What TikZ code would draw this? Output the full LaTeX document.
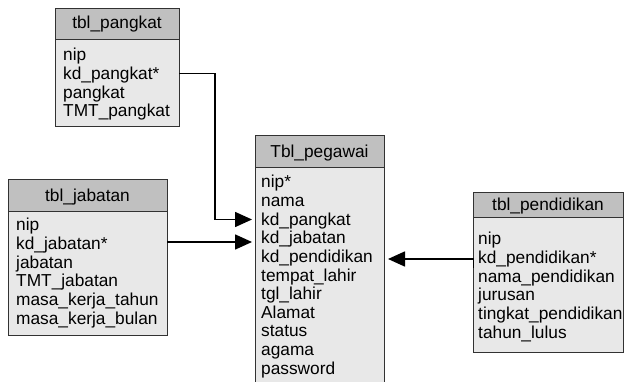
\documentclass[tikz,border=0pt]{standalone}
\usepackage{fontspec}
\setmainfont{Liberation Sans}
\usetikzlibrary{arrows.meta}
\definecolor{hdrgray}{RGB}{192,192,192}
\definecolor{bodygray}{RGB}{232,232,232}
\definecolor{edgegray}{RGB}{50,50,50}
\begin{document}
\begin{tikzpicture}[x=1pt,y=-1pt,
  hdrbox/.style={draw=edgegray,fill=hdrgray,line width=1pt},
  bodybox/.style={draw=edgegray,fill=bodygray,line width=1pt},
  hdrtext/.style={font=\fontsize{17.3}{18}\selectfont,inner sep=0pt,anchor=base},
  rowtext/.style={font=\fontsize{17.3}{18}\selectfont,inner sep=0pt,anchor=base west},
  conn/.style={line width=1.6pt,black},
  arr/.style={conn,-{Triangle[length=17pt,width=15pt]}}]
\useasboundingbox (0,0) rectangle (624,382);
\clip (0,0) rectangle (624,382);
\fill[white] (0,0) rectangle (624,382);

% tbl_pangkat
\path[bodybox] (55,40) rectangle (179,127);
\path[hdrbox] (55,9) rectangle (179,40);
\node[hdrtext] (pk-h) at (117,29) {tbl\_pangkat};
\node[rowtext] (pk-1) at (63,61) {nip};
\node[rowtext] (pk-2) at (63,79.6) {kd\_pangkat*};
\node[rowtext] (pk-3) at (63,98.2) {pangkat};
\node[rowtext] (pk-4) at (63,116.8) {TMT\_pangkat};

% tbl_jabatan
\path[bodybox] (8,212) rectangle (167,335);
\path[hdrbox] (8,180) rectangle (167,212);
\node[hdrtext] (jb-h) at (87.5,201.5) {tbl\_jabatan};
\node[rowtext] (jb-1) at (16,231) {nip};
\node[rowtext] (jb-2) at (16,249.6) {kd\_jabatan*};
\node[rowtext] (jb-3) at (16,268.2) {jabatan};
\node[rowtext] (jb-4) at (16,286.8) {TMT\_jabatan};
\node[rowtext] (jb-5) at (16,305.4) {masa\_kerja\_tahun};
\node[rowtext] (jb-6) at (16,324) {masa\_kerja\_bulan};

% Tbl_pegawai
\path[bodybox] (255,168) rectangle (384,395);
\path[hdrbox] (255,136) rectangle (384,168);
\node[hdrtext] (pg-h) at (319.5,157.5) {Tbl\_pegawai};
\node[rowtext] (pg-1) at (261,188) {nip*};
\node[rowtext] (pg-2) at (261,206.6) {nama};
\node[rowtext] (pg-3) at (261,225.2) {kd\_pangkat};
\node[rowtext] (pg-4) at (261,243.8) {kd\_jabatan};
\node[rowtext] (pg-5) at (261,262.4) {kd\_pendidikan};
\node[rowtext] (pg-6) at (261,281) {tempat\_lahir};
\node[rowtext] (pg-7) at (261,299.6) {tgl\_lahir};
\node[rowtext] (pg-8) at (261,318.2) {Alamat};
\node[rowtext] (pg-9) at (261,336.8) {status};
\node[rowtext] (pg-10) at (261,355.4) {agama};
\node[rowtext] (pg-11) at (261,374) {password};

% tbl_pendidikan
\path[bodybox] (473,218) rectangle (623,352);
\path[hdrbox] (473,193) rectangle (623,218);
\node[hdrtext] (pd-h) at (548,211) {tbl\_pendidikan};
\node[rowtext] (pd-1) at (478,245) {nip};
\node[rowtext] (pd-2) at (478,263.6) {kd\_pendidikan*};
\node[rowtext] (pd-3) at (478,282.2) {nama\_pendidikan};
\node[rowtext] (pd-4) at (478,300.8) {jurusan};
\node[rowtext] (pd-5) at (478,319.4) {tingkat\_pendidikan};
\node[rowtext] (pd-6) at (478,338) {tahun\_lulus};

% connectors
\coordinate (pk-out) at (179,73.5);
\coordinate (pk-bend) at (215,73.5);
\coordinate (pg-in3) at (252,219.5);
\coordinate (jb-out) at (167,242);
\coordinate (pg-in4) at (252,242);
\coordinate (pd-stub) at (473.5,268);
\coordinate (pd-out) at (473.5,259);
\coordinate (pg-in5) at (388,259);
\draw[arr] (pk-out) -- (pk-bend) |- (pg-in3);
\draw[arr] (jb-out) -- (pg-in4);
\draw[arr] (pd-stub) -- (pd-out) -- (pg-in5);
\end{tikzpicture}
\end{document}
